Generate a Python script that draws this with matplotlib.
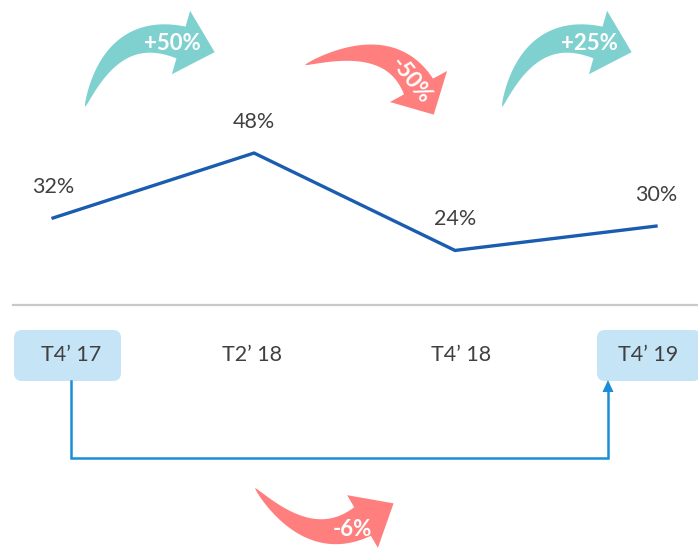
import numpy as np
import matplotlib
matplotlib.use("Agg")
import matplotlib.pyplot as plt
from matplotlib.patches import Polygon, FancyBboxPatch

plt.rcParams['font.family'] = ['Lato', 'DejaVu Sans']

# --- data ---------------------------------------------------------------
periods = ["T4\u2019 17", "T2\u2019 18", "T4\u2019 18", "T4\u2019 19"]
share = [32, 48, 24, 30]
changes = ["+50%", "-50%", "+25%", "-6%"]

W, H = 698, 550
fig = plt.figure(figsize=(W / 100, H / 100), dpi=100)

# line axes: full figure, scales chosen so the series sits in the upper half
ax = fig.add_axes([0, 0, 1, 1])
ax.set_xlim(-0.264, 3.209)
ax.set_ylim(-49.8, 85.7)
ax.axis("off")
x = np.arange(len(share))
ax.plot(x, share, color="#1a5cb0", lw=2.4, solid_joinstyle="miter", zorder=3)
for xi, v in zip(x, share):
    ax.annotate(f"{v}%", (xi, v), xytext=(0, 22.5), textcoords="offset points",
                ha="center", va="center", fontsize=15.5, color="#404040")

# overlay in pixel units for the decorations
ov = fig.add_axes([0, 0, 1, 1], zorder=2)
ov.set_xlim(0, W)
ov.set_ylim(H, 0)
ov.axis("off")
ov.patch.set_alpha(0)

# separator
ov.plot([13, W], [305, 305], color="#c9c9c9", lw=1.6)

# period labels
label_x = [71, 252, 461, 648]
boxes = {0: (14, 121), 3: (597, 701)}
for i, (lx, name) in enumerate(zip(label_x, periods)):
    if i in boxes:
        x0, x1 = boxes[i]
        ov.add_patch(FancyBboxPatch((x0, 330), x1 - x0, 51,
                                    boxstyle="round,pad=0,rounding_size=8",
                                    fc="#c5e4f6", ec="none", zorder=1))
    ov.text(lx, 355, name, ha="center", va="center", fontsize=15.5,
            color="#404040", zorder=2)

# connector between first and last period
blue = "#1a8ed8"
ov.plot([71, 71, 608, 608], [381, 458, 458, 390], color=blue, lw=1.8,
        solid_joinstyle="miter")
ov.add_patch(Polygon([[602.5, 392], [613.5, 392], [608, 380]], closed=True,
                     fc=blue, ec="none"))


def curved_arrow(tail, base_mid, ang_deg, ctrl, body_w, head_w, head_len,
                 color):
    """Tapered quadratic-Bezier body ending in a triangular head."""
    p0 = np.array(tail, float)
    p2 = np.array(base_mid, float)
    d = np.array([np.cos(np.radians(ang_deg)), np.sin(np.radians(ang_deg))])
    p1 = p2 - ctrl * d
    t = np.linspace(0, 1, 80)[:, None]
    pts = (1 - t) ** 2 * p0 + 2 * (1 - t) * t * p1 + t ** 2 * p2
    der = 2 * (1 - t) * (p1 - p0) + 2 * t * (p2 - p1)
    der /= np.linalg.norm(der, axis=1, keepdims=True)
    nrm = np.column_stack([-der[:, 1], der[:, 0]])
    w = body_w * t[:, 0] ** 0.7 / 2
    left = pts + nrm * w[:, None]
    right = pts - nrm * w[:, None]
    n_end = np.array([-d[1], d[0]])
    head = [p2 + n_end * head_w / 2, p2 + d * head_len, p2 - n_end * head_w / 2]
    poly = np.vstack([left, head, right[::-1]])
    ov.add_patch(Polygon(poly, closed=True, fc=color, ec="none", zorder=3))


teal = "#7fd1d0"
red = "#ff7f7f"
curved_arrow((85, 107), (181, 42.5), 16, 70, 33, 66, 35, teal)
curved_arrow((305, 65), (418.5, 86.5), 61.5, 60, 33, 65, 32, red)
curved_arrow((502, 107), (598, 42.5), 16, 70, 33, 66, 35, teal)
curved_arrow((255, 488), (362.5, 521.5), -30.3, 60, 33, 61, 36, red)

label_pos = [(172, 44, 0), (411, 81, -52), (589, 43, 0), (352, 529, 0)]
for (lx, ly, rot), txt in zip(label_pos, changes):
    ov.text(lx, ly, txt, ha="center", va="center", rotation=rot,
            rotation_mode="anchor", fontsize=16, fontweight="bold",
            color="white", zorder=4)

fig.savefig("out.png", dpi=100)
